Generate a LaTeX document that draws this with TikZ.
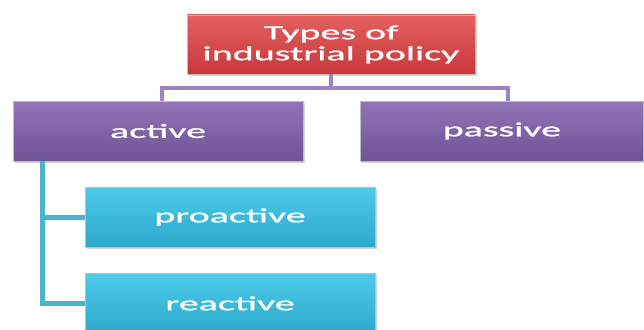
\documentclass[tikz,border=0pt]{standalone}
\usepackage{xcolor}
\usepackage{fontspec}
\setmainfont{Carlito}[FakeStretch=2.0, FakeBold=1.2]
\usepackage{tikz}
\usetikzlibrary{shapes,arrows.meta,positioning,shadows}

\definecolor{redtop}{HTML}{E4605F}
\definecolor{redbot}{HTML}{C8383C}
\definecolor{purptop}{HTML}{9275B6}
\definecolor{purpbot}{HTML}{6E5293}
\definecolor{tealtop}{HTML}{4DCBEA}
\definecolor{tealbot}{HTML}{2CA9CB}
\definecolor{purpline}{HTML}{9D84C4}
\definecolor{tealline}{HTML}{4BB3CF}

\begin{document}
\begin{tikzpicture}[
    x=1pt, y=1pt,
    node distance=1cm,
    box/.style={rectangle, draw=black!25, line width=0.4pt, minimum width=290pt, minimum height=60pt,
        text centered, text=white, font=\fontsize{20}{21}\selectfont,
        drop shadow={opacity=0.35, shadow xshift=1.5pt, shadow yshift=-2pt}},
    redbox/.style={box, top color=redtop, bottom color=redbot},
    purpbox/.style={box, top color=purptop, bottom color=purpbot},
    tealbox/.style={box, top color=tealtop, bottom color=tealbot},
    purpconn/.style={draw=purpline, line width=4pt},
    tealconn/.style={draw=tealline, line width=5pt}
]
\useasboundingbox (0,0) rectangle (644,-329);
\clip (0,0) rectangle (644,-329);

\node[redbox, minimum width=288pt, minimum height=59pt, align=center] (types) at (331,-44.5) {Types of\\industrial policy};
\node[purpbox] (active) at (158,-131) {active};
\node[purpbox, minimum width=283pt, right=57pt of active] (passive) {passive};
\node[tealbox] (proactive) at (230,-217) {proactive};
\node[tealbox, below=26pt of proactive] (reactive) {reactive};

% upper level
\draw[purpconn] (types.south) -- ++(0,-14) coordinate (bus);
\draw[purpconn] ([xshift=4pt]active.north) |- (bus) -| ([xshift=6pt]passive.north);

% branches under active
\coordinate (trunk) at ([xshift=30pt]active.south west);
\draw[tealconn] (trunk) |- (proactive.west);
\draw[tealconn] (trunk) |- (reactive.west);
\end{tikzpicture}
\end{document}
